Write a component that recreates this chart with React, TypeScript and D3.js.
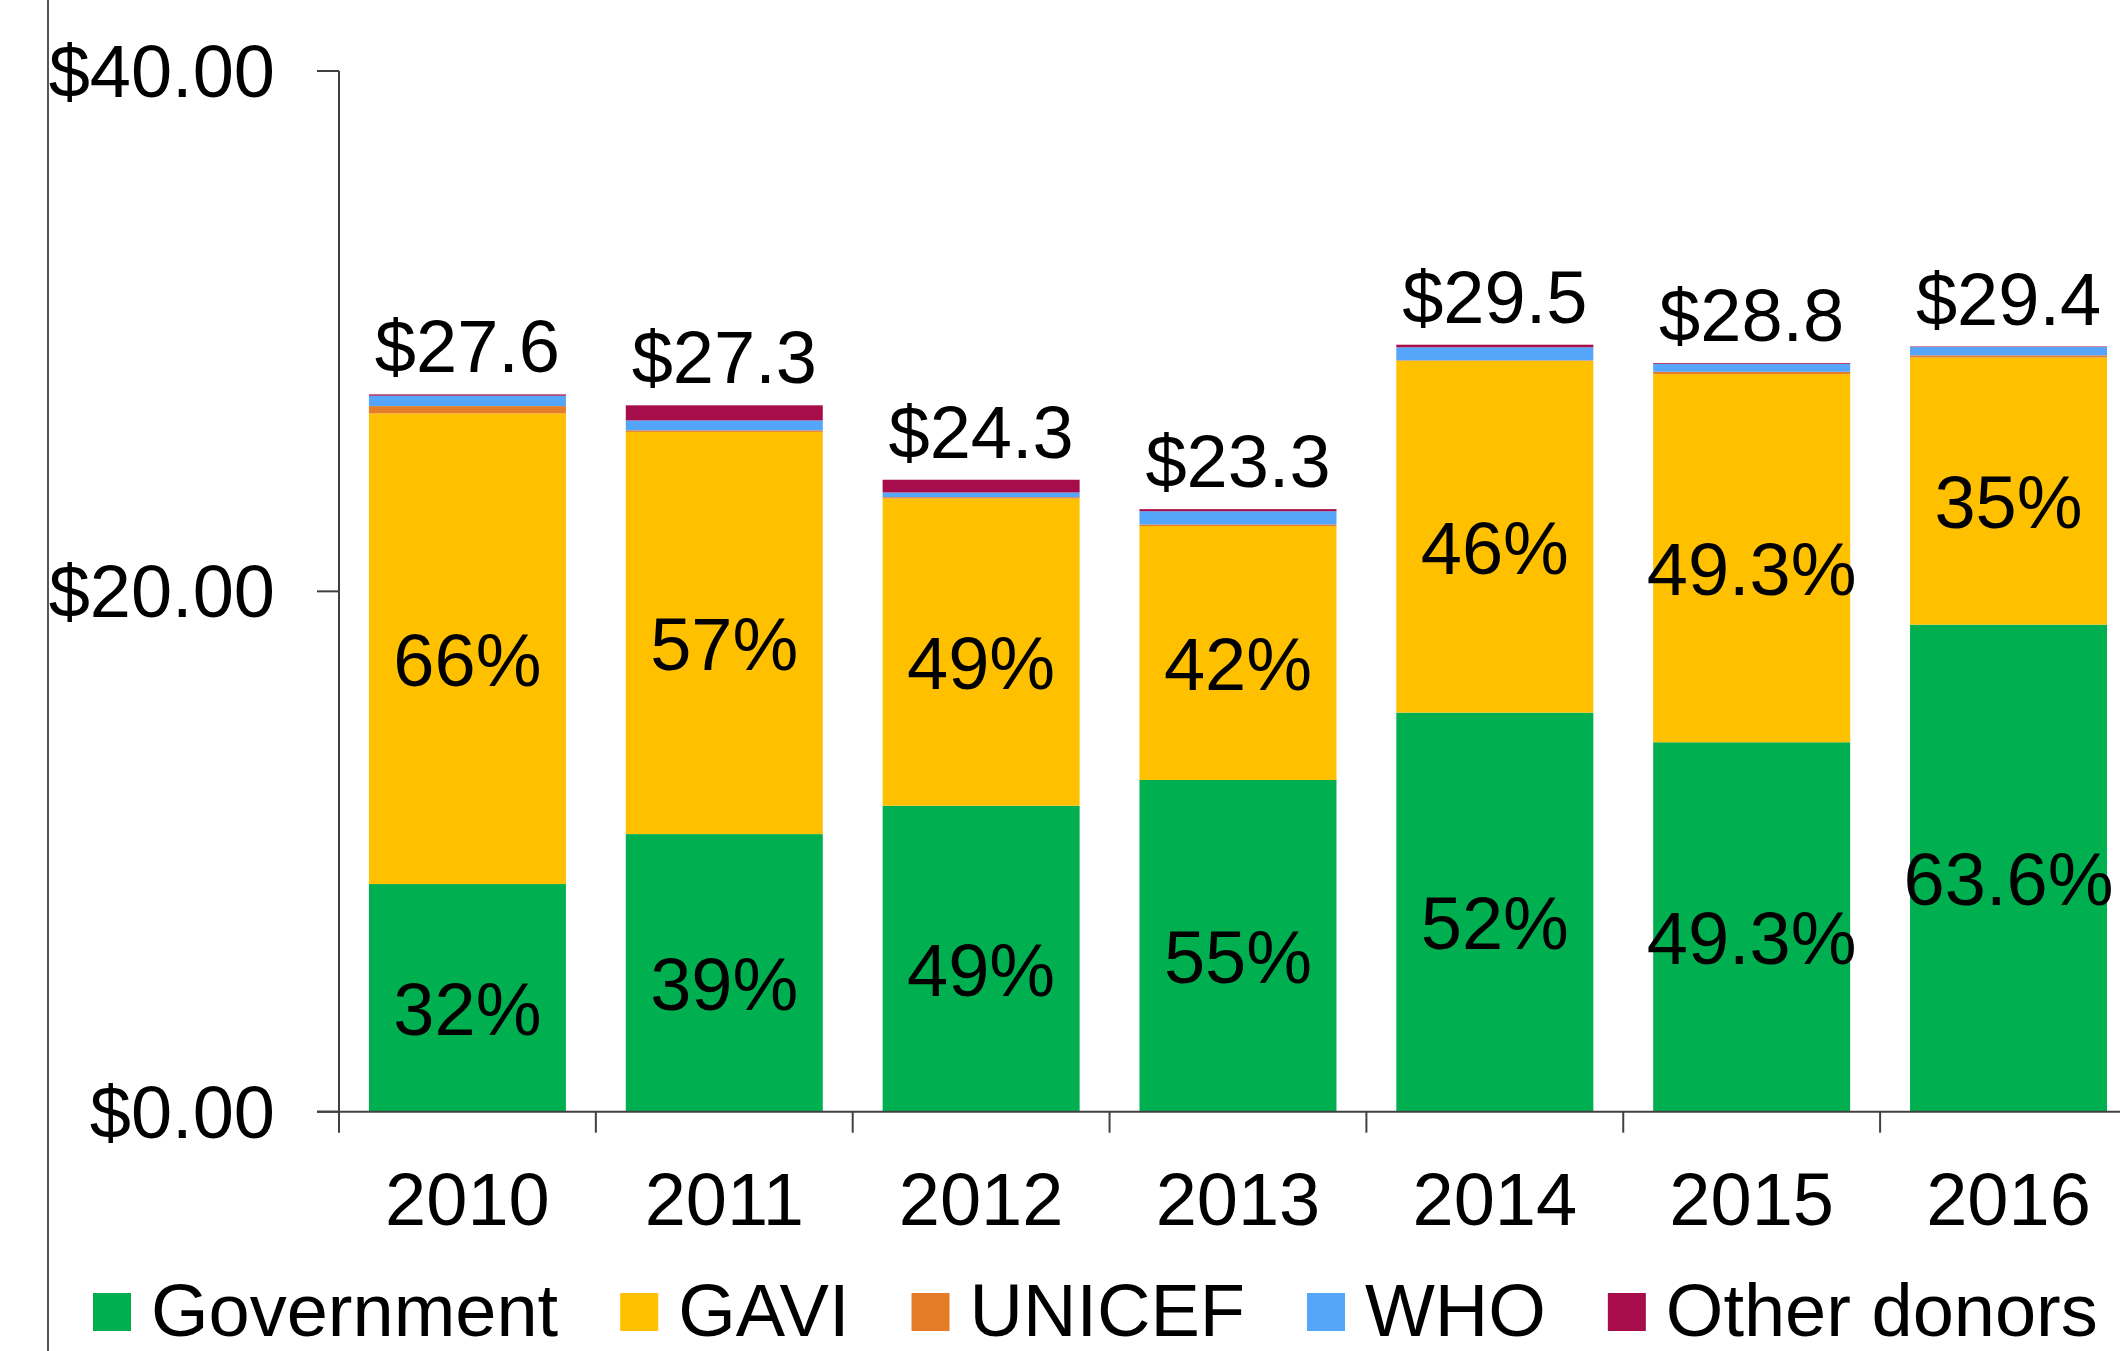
import React, { useEffect, useRef } from "react";
import * as d3 from "d3";

const years = ["2010", "2011", "2012", "2013", "2014", "2015", "2016"];
const government = [8.75, 10.67, 11.76, 12.75, 15.34, 14.2, 18.72];
const gavi = [18.09, 15.46, 11.81, 9.76, 13.52, 14.15, 10.27];
const unicef = [0.28, 0.06, 0.05, 0.06, 0.02, 0.09, 0.08];
const who = [0.4, 0.38, 0.18, 0.51, 0.5, 0.3, 0.32];
const otherDonors = [0.05, 0.58, 0.49, 0.08, 0.1, 0.03, 0.02];
const totalLabels = ["$27.6", "$27.3", "$24.3", "$23.3", "$29.5", "$28.8", "$29.4"];
const govPctLabels = ["32%", "39%", "49%", "55%", "52%", "49.3%", "63.6%"];
const gaviPctLabels = ["66%", "57%", "49%", "42%", "46%", "49.3%", "35%"];
const seriesNames = ["Government", "GAVI", "UNICEF", "WHO", "Other donors"];
const yTicks = [0, 20, 40];

const colors = ["#00B050", "#FFC000", "#E47C28", "#55A5FA", "#A70D4B"];
const FONT = "'Liberation Sans', Arial, sans-serif";
const FS = 74;

export default function App() {
  const ref = useRef<SVGSVGElement>(null);

  useEffect(() => {
    const svg = d3.select(ref.current);
    svg.selectAll("*").remove();
    const W = 2120, H = 1351;
    const x0 = 339, step = 256.85;
    const yTop = 71, yBot = 1111.7;

    const x = d3.scaleBand<string>()
      .domain(years)
      .range([x0, x0 + step * years.length])
      .paddingInner(0.233)
      .paddingOuter(0.1165);
    const y = d3.scaleLinear().domain([0, 40]).range([yBot, yTop]);

    const table = years.map((yr, i) => ({
      year: yr,
      Government: government[i],
      GAVI: gavi[i],
      UNICEF: unicef[i],
      WHO: who[i],
      "Other donors": otherDonors[i],
    }));
    const stack = d3.stack<any>().keys(seriesNames)(table);

    const axisColor = "#404040";
    // outer left frame line
    svg.append("line").attr("x1", 48).attr("x2", 48).attr("y1", 0).attr("y2", H)
      .attr("stroke", "#555").attr("stroke-width", 2);

    // bars
    stack.forEach((layer, si) => {
      svg.append("g").selectAll("rect").data(layer).join("rect")
        .attr("x", (_d: any, i: number) => x(years[i])!)
        .attr("width", x.bandwidth())
        .attr("y", (d: any) => y(d[1]))
        .attr("height", (d: any) => Math.max(0, y(d[0]) - y(d[1])))
        .attr("fill", colors[si]);
    });

    // y axis
    svg.append("line").attr("x1", x0).attr("x2", x0).attr("y1", yTop).attr("y2", yBot)
      .attr("stroke", axisColor).attr("stroke-width", 2);
    yTicks.forEach((t) => {
      svg.append("line").attr("x1", x0 - 22).attr("x2", x0).attr("y1", y(t)).attr("y2", y(t))
        .attr("stroke", axisColor).attr("stroke-width", 2);
      svg.append("text").attr("x", 275).attr("y", y(t)).attr("dy", "0.35em")
        .attr("text-anchor", "end").attr("font-family", FONT).attr("font-size", FS)
        .text("$" + d3.format(".2f")(t));
    });

    // x axis
    svg.append("line").attr("x1", x0 - 22).attr("x2", W).attr("y1", yBot).attr("y2", yBot)
      .attr("stroke", axisColor).attr("stroke-width", 2);
    for (let i = 0; i <= years.length; i++) {
      const tx = x0 + step * i;
      svg.append("line").attr("x1", tx).attr("x2", tx).attr("y1", yBot).attr("y2", yBot + 21)
        .attr("stroke", axisColor).attr("stroke-width", 2);
    }
    years.forEach((yr) => {
      svg.append("text").attr("x", x(yr)! + x.bandwidth() / 2).attr("y", 1225)
        .attr("text-anchor", "middle").attr("font-family", FONT).attr("font-size", FS)
        .text(yr);
    });

    // segment labels
    const govLayer = stack[0], gaviLayer = stack[1];
    years.forEach((yr, i) => {
      const cx = x(yr)! + x.bandwidth() / 2;
      const gMid = (y(govLayer[i][0]) + y(govLayer[i][1])) / 2;
      svg.append("text").attr("x", cx).attr("y", gMid).attr("dy", "0.5em")
        .attr("text-anchor", "middle").attr("font-family", FONT).attr("font-size", FS)
        .text(govPctLabels[i]);
      const aMid = (y(gaviLayer[i][0]) + y(gaviLayer[i][1])) / 2;
      svg.append("text").attr("x", cx).attr("y", aMid).attr("dy", "0.5em")
        .attr("text-anchor", "middle").attr("font-family", FONT).attr("font-size", FS)
        .text(gaviPctLabels[i]);
      const top = stack[stack.length - 1][i][1];
      svg.append("text").attr("x", cx).attr("y", y(top) - 22)
        .attr("text-anchor", "middle").attr("font-family", FONT).attr("font-size", FS)
        .text(totalLabels[i]);
    });

    // legend
    let lx = 93;
    seriesNames.forEach((name, i) => {
      svg.append("rect").attr("x", lx).attr("y", 1293).attr("width", 38).attr("height", 38)
        .attr("fill", colors[i]);
      const t = svg.append("text").attr("x", lx + 58).attr("y", 1336)
        .attr("font-family", FONT).attr("font-size", FS).text(name);
      const w = (t.node() as SVGTextElement).getComputedTextLength();
      lx = lx + 58 + w + 62;
    });
  }, []);

  return (
    <svg
      ref={ref}
      width={2120}
      height={1351}
      style={{ position: "absolute", left: 0, top: 0, background: "#fff" }}
    />
  );
}
